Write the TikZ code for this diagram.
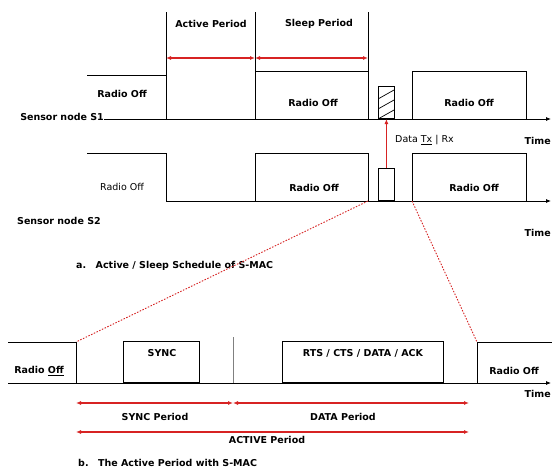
\documentclass[tikz,border=0pt]{standalone}
\usepackage{fontspec}
\setmainfont{DejaVu Sans}
\usetikzlibrary{arrows.meta}
\definecolor{rd}{RGB}{215,35,35}
\begin{document}
\begin{tikzpicture}[x=1pt,y=-1pt,
  lbl/.style={font=\fontsize{9.5}{11}\selectfont\bfseries, inner sep=0pt},
  lblr/.style={font=\fontsize{9.5}{11}\selectfont, inner sep=0pt},
  sig/.style={line width=0.8pt, black},
  per/.style={rd, line width=1.1pt, {Latex[length=5pt,width=4pt]}-{Latex[length=5pt,width=4pt]}},
  zoomln/.style={rd, line width=0.9pt, dash pattern=on 1.5pt off 1.5pt},
  axis/.style={sig, -{Latex[length=5pt,width=4pt]}}]
\path[use as bounding box, fill=white] (0,0) rectangle (552,472);

% ---------- top: period markers ----------
\coordinate (a0) at (166,12);
\coordinate (a1) at (255,12);
\coordinate (a2) at (368,12);
\draw[sig] (a0) -- (166,119);
\draw[sig] (a1) -- (255,119);
\draw[sig] (a2) -- (368,119);
\node[lbl] (actp) at (211,24) {Active\ Period};
\node[lbl] (slp) at (319,24) {Sleep\ Period};
\coordinate (pa0) at (166,58);
\coordinate (pa1) at (255,58);
\coordinate (pa2) at (368,58);
\draw[per] (pa0) -- (pa1);
\draw[per] (pa1) -- (pa2);

% ---------- Sensor node S1 ----------
\node[lbl, anchor=east] (s1) at (104,117) {Sensor node S1};
\coordinate (s1l) at (104,119);
\coordinate (s1r) at (551,119);
\draw[axis] (s1l) -- (s1r);
\draw[sig] (87,75) -- (166,75);
\draw[sig] (255,119) |- (368,71);
\draw[sig] (412,119) |- (526,71) -- (526,119);
\node[lbl] (s1o1) at (122,94) {Radio Off};
\node[lbl] (s1o2) at (313,103) {Radio Off};
\node[lbl] (s1o3) at (469,103) {Radio Off};
\node[lbl, anchor=east] (t1) at (551,141) {Time};
% hatched data box
\node[draw, sig, minimum width=16pt, minimum height=32pt, inner sep=0pt, anchor=south west] (h1) at (378,119) {};
\begin{scope}
  \clip (378,87) rectangle (394,119);
  \draw[line width=0.7pt] (378,99) -- (394,90);
  \draw[line width=0.7pt] (378,109) -- (394,100);
  \draw[line width=0.7pt] (378,119) -- (394,110);
\end{scope}

% ---------- Sensor node S2 ----------
\node[lbl, anchor=west] (s2) at (17,221) {Sensor node S2};
\coordinate (s2l) at (166,201);
\coordinate (s2r) at (551,201);
\draw[axis] (s2l) -- (s2r);
\draw[sig] (87,153) -| (166,201);
\draw[sig] (255,201) |- (368,153) -- (368,201);
\draw[sig] (412,201) |- (526,153) -- (526,201);
\node[lblr] (s2o1) at (122,187) {Radio Off};
\node[lbl] (s2o2) at (314,188) {Radio Off};
\node[lbl] (s2o3) at (474,188) {Radio Off};
\node[lbl, anchor=east] (t2) at (551,233) {Time};
\node[draw, sig, minimum width=16pt, minimum height=32pt, inner sep=0pt, anchor=south west] (h2) at (378,201) {};
\draw[rd, line width=1.1pt, -{Latex[length=5pt,width=4pt]}] (h2.north) -- (h1.south);
\node[lblr, anchor=west] (dtx) at (395,140) {Data \underline{Tx} | Rx};

\node[lbl, anchor=west] (capa) at (76,266) {a.\quad Active / Sleep Schedule of S-MAC};

% ---------- zoom lines ----------
\coordinate (z0) at (368,201);
\coordinate (z1) at (412,201);
\coordinate (b0) at (76,342);
\coordinate (b1) at (477,342);
\draw[zoomln] (z0) -- (b0);
\draw[zoomln] (z1) -- (b1);

% ---------- bottom: active period ----------
\coordinate (bl) at (8,383);
\coordinate (br) at (551,383);
\draw[axis] (bl) -- (br);
\draw[sig] (8,342) -| (76,383);
\node[draw, sig, minimum width=76pt, minimum height=41pt, inner sep=0pt, anchor=south west] (sync) at (123,383) {};
\node[lbl] at (162,353) {SYNC};
\draw[gray, line width=0.6pt] (233,337) -- (233,383);
\node[draw, sig, minimum width=161pt, minimum height=41pt, inner sep=0pt, anchor=south west] (rts) at (282,383) {};
\node[lbl] at (363,353) {RTS / CTS / DATA / ACK};
\draw[sig] (477,383) |- (553,342);
\node[lbl] (bo1) at (39,371) {Radio \underline{Off}};
\node[lbl] (bo2) at (514,371) {Radio Off};
\node[lbl, anchor=east] (t3) at (551,394) {Time};

\coordinate (p0) at (76,403);
\coordinate (p1) at (233,403);
\coordinate (p2) at (469,403);
\draw[per] (p0) -- (p1);
\draw[per] (p1) -- (p2);
\node[lbl] at (155,417) {SYNC Period};
\node[lbl] at (343,417) {DATA Period};
\coordinate (q0) at (76,432);
\coordinate (q1) at (469,432);
\draw[per] (q0) -- (q1);
\node[lbl] at (267,440) {ACTIVE Period};

\node[lbl, anchor=west] (capb) at (78,463) {b.\quad The Active\ Period with\ S-MAC};
\end{tikzpicture}
\end{document}
